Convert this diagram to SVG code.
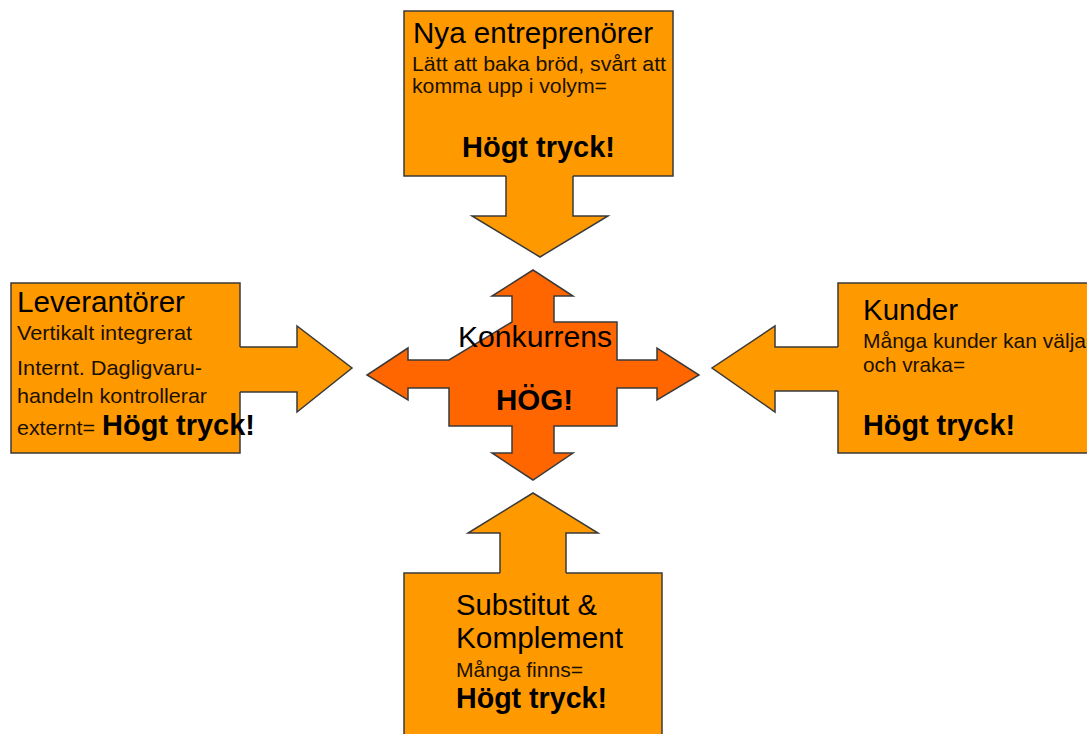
<svg xmlns="http://www.w3.org/2000/svg" width="1087" height="734" viewBox="0 0 1087 734">
  <style>
    .box { fill: #FF9900; stroke: #3a3a3a; stroke-width: 1.5; }
    .center { fill: #FF6600; stroke: #3a3a3a; stroke-width: 1.5; }
    .afill { fill: #FF9900; stroke: none; }
    .aline { fill: none; stroke: #3a3a3a; stroke-width: 1.5; stroke-linejoin: miter; }
    text { font-family: "Liberation Sans", Arial, sans-serif; fill: #000; }
    .t { font-size: 30px; }
    .b { font-size: 21px; fill: #1a1000; }
    .h { font-size: 29px; font-weight: bold; }
  </style>
  <rect width="1087" height="734" fill="#ffffff"/>

  <g id="node-nya-entreprenorer">
    <rect class="box" x="404" y="11" width="269" height="165"/>
    <text class="t" x="413" y="43" textLength="240" lengthAdjust="spacingAndGlyphs">Nya entreprenörer</text>
    <text class="b" x="412" y="71" textLength="254" lengthAdjust="spacingAndGlyphs">Lätt att baka bröd, svårt att</text>
    <text class="b" x="412" y="93" textLength="195" lengthAdjust="spacingAndGlyphs">komma upp i volym=</text>
    <text class="h" x="462" y="157" textLength="153" lengthAdjust="spacingAndGlyphs">Högt tryck!</text>
  </g>

  <g id="node-leverantorer">
    <rect class="box" x="11" y="283" width="229" height="170"/>
    <text class="t" x="17" y="312" textLength="168" lengthAdjust="spacingAndGlyphs">Leverantörer</text>
    <text class="b" x="17" y="340" textLength="175" lengthAdjust="spacingAndGlyphs">Vertikalt integrerat</text>
    <text class="b" x="17" y="375" textLength="185" lengthAdjust="spacingAndGlyphs">Internt. Dagligvaru-</text>
    <text class="b" x="17" y="403" textLength="190" lengthAdjust="spacingAndGlyphs">handeln kontrollerar</text>
    <text class="b" x="17" y="435" textLength="78" lengthAdjust="spacingAndGlyphs">externt=</text>
    <text class="h" x="102" y="435" textLength="153" lengthAdjust="spacingAndGlyphs">Högt tryck!</text>
  </g>

  <g id="node-kunder">
    <rect class="box" x="838" y="283" width="260" height="170"/>
    <text class="t" x="863" y="320" textLength="95" lengthAdjust="spacingAndGlyphs">Kunder</text>
    <text class="b" x="863" y="348" textLength="223" lengthAdjust="spacingAndGlyphs">Många kunder kan välja</text>
    <text class="b" x="863" y="372" textLength="102" lengthAdjust="spacingAndGlyphs">och vraka=</text>
    <text class="h" x="863" y="435" textLength="152" lengthAdjust="spacingAndGlyphs">Högt tryck!</text>
  </g>

  <g id="node-substitut-komplement">
    <rect class="box" x="404" y="573" width="258" height="170"/>
    <text class="t" x="456" y="615" textLength="141" lengthAdjust="spacingAndGlyphs">Substitut &amp;</text>
    <text class="t" x="456" y="648" textLength="167" lengthAdjust="spacingAndGlyphs">Komplement</text>
    <text class="b" x="456" y="677" textLength="127" lengthAdjust="spacingAndGlyphs">Många finns=</text>
    <text class="h" x="456" y="708" textLength="151" lengthAdjust="spacingAndGlyphs">Högt tryck!</text>
  </g>

  <g id="node-konkurrens">
    <path class="center" d="M512,322 L512,296 L492,296 L533,270 L573,296 L554,296 L554,322 L617,322 L617,360 L657,360 L657,348 L699,375 L657,400 L657,388 L617,388 L617,426 L554,426 L554,453 L573,453 L533,480 L492,453 L512,453 L512,426 L449,426 L449,388 L408,388 L408,400 L367,375 L408,348 L408,360 L449,360 Z"/>
    <text class="t" x="458" y="347" textLength="154" lengthAdjust="spacingAndGlyphs">Konkurrens</text>
    <text class="h" x="496" y="410" textLength="77" lengthAdjust="spacingAndGlyphs">HÖG!</text>
  </g>

  <g id="connectors">
    <polygon class="afill" points="506,174 573,174 573,216 608,216 540,257 472,216 506,216"/>
    <polyline class="aline" points="506,176 506,216 472,216 540,257 608,216 573,216 573,176"/>

    <polygon class="afill" points="238,347 297,347 297,326 352,368 297,412 297,392 238,392"/>
    <polyline class="aline" points="240,347 297,347 297,326 352,368 297,412 297,392 240,392"/>

    <polygon class="afill" points="840,347 775,347 775,326 712,368 775,412 775,391 840,391"/>
    <polyline class="aline" points="838,347 775,347 775,326 712,368 775,412 775,391 838,391"/>

    <polygon class="afill" points="500,575 500,533 468,533 533,493 598,533 566,533 566,575"/>
    <polyline class="aline" points="500,573 500,533 468,533 533,493 598,533 566,533 566,573"/>
  </g>
</svg>
